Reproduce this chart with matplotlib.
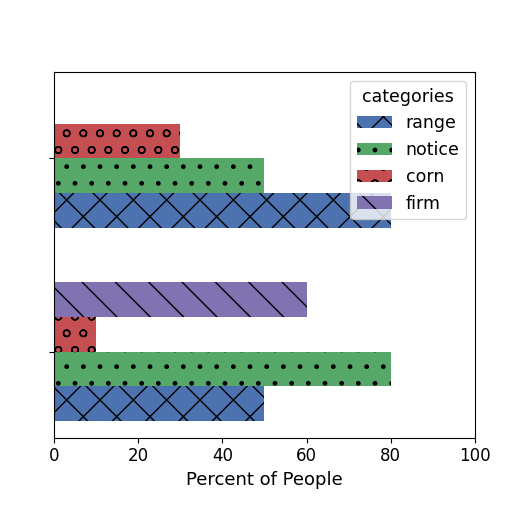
import numpy as np
import matplotlib
matplotlib.use("Agg")
import matplotlib.pyplot as plt

categories = ["range", "notice", "corn", "firm"]
groups = [0, 1]
range_vals = [50, 80]
notice_vals = [80, 50]
corn_vals = [10, 30]
firm_vals = [60, 0]

colors = ["#4C72B0", "#55A868", "#C44E52", "#8172B2"]
hatches = ["x", ".", "o", "\\"]

fig = plt.figure(figsize=(5.12, 5.12), dpi=100)
ax = fig.add_axes([0.105, 0.145, 0.823, 0.714])

series = [range_vals, notice_vals, corn_vals, firm_vals]
h = 0.18
y = np.array(groups, dtype=float)
for i, (name, vals) in enumerate(zip(categories, series)):
    ax.barh(y + (i - 1.5) * h, vals, height=h, color=colors[i], hatch=hatches[i],
            label=name, edgecolor="black", linewidth=0)

ax.set_xlim(0, 100)
ax.set_yticks(groups)
ax.set_yticklabels(["", ""])
ax.tick_params(axis="x", labelsize=12)
ax.set_xlabel("Percent of People", fontsize=13)
ax.legend(title="categories", loc="upper right", fontsize=12.5, title_fontsize=12.5)

plt.savefig("out.png", dpi=100)
